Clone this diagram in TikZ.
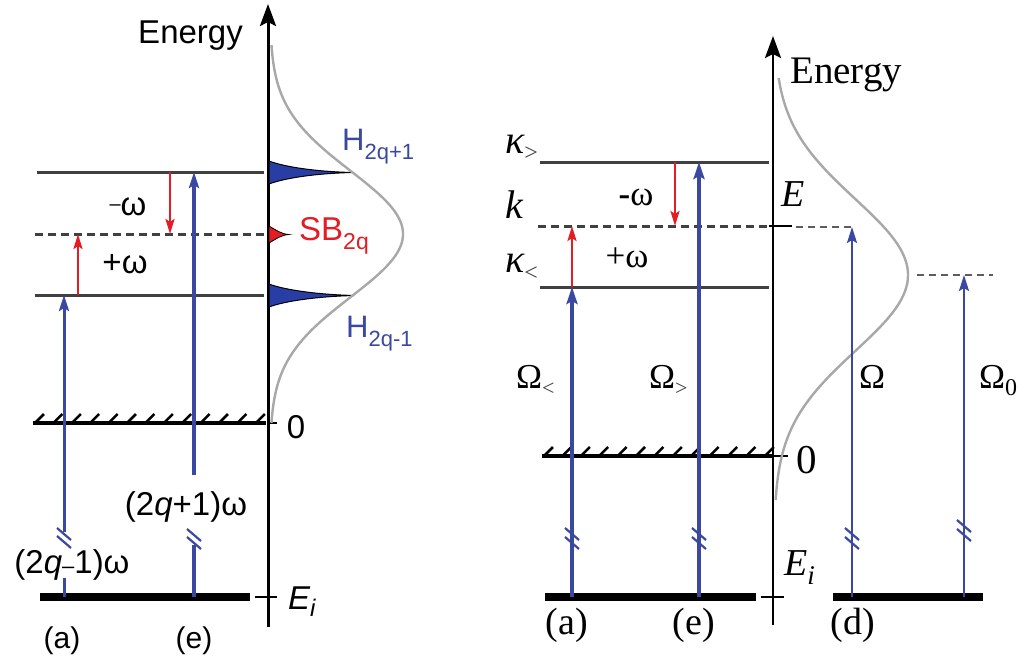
\documentclass[tikz,border=0pt]{standalone}
\usepackage{fontspec}
\setmainfont{Liberation Serif}
\newfontfamily\sanf{Liberation Sans}
\usetikzlibrary{arrows.meta}
\definecolor{lvl}{RGB}{64,64,64}
\definecolor{bl}{RGB}{58,72,162}
\definecolor{rd}{RGB}{228,28,36}
\definecolor{gs}{RGB}{168,168,168}
\definecolor{pk}{RGB}{40,62,165}
\newcommand{\fsz}[1]{\fontsize{#1}{#1}\selectfont}
\begin{document}
\begin{tikzpicture}[x=1pt,y=-1pt,
  level/.style={draw=lvl, line width=3pt},
  dlevel/.style={draw=lvl, line width=3pt, dash pattern=on 8pt off 5pt},
  thindash/.style={draw=lvl!85, line width=1.8pt, dash pattern=on 7pt off 5pt},
  ground/.style={line width=8pt},
  zero/.style={line width=4pt},
  hatch/.style={line width=2.5pt},
  axisarrow/.style={line width=3pt, -{Stealth[length=22pt,width=16pt,inset=4pt]}},
  tickmark/.style={line width=2.5pt},
  bline/.style={draw=bl, line width=3pt},
  barrow/.style={draw=bl, line width=3pt, -{Stealth[length=16pt,width=10pt,inset=3pt]}},
  bthick/.style={draw=bl, line width=4pt, -{Stealth[length=17pt,width=11pt,inset=3pt]}},
  bthin/.style={draw=bl, line width=2.5pt, -{Stealth[length=16pt,width=10pt,inset=3pt]}},
  brk/.style={draw=bl, line width=2.2pt},
  rarrow/.style={draw=rd, line width=2.5pt, -{Stealth[length=15pt,width=9pt,inset=3pt]}},
  gauss/.style={draw=gs, line width=2.4pt},
  lbl/.style={inner sep=0pt},
  sl/.style={lbl, font=\sanf\fsz{33}},
  rl/.style={lbl, font=\fsz{36}}
]
\useasboundingbox (0,0) rectangle (1025,659);

% ================= LEFT PANEL =================
\coordinate (LaxB) at (268,627);
\coordinate (LaxT) at (268,4);
\draw[axisarrow] (LaxB) -- (LaxT);
\node[lbl, font=\sanf\fsz{33}, anchor=base east] (Lenergy) at (243,43) {Energy};

% levels
\draw[level] (37,172) -- (264,172);
\draw[dlevel] (35,234) -- (264,234);
\draw[level] (35,295) -- (264,295);
% zero level with hatching
\draw[zero] (33,423) -- (266,423);
\foreach \i in {0,...,12} \draw[hatch] (36+\i*18.4,422) -- ++(8,-8);
\draw[tickmark] (268,423) -- (277,423);
\node[sl] (L0) at (296,427) {0};
% initial level
\draw[ground] (40,597) -- (250,597);
\draw[tickmark] (255,597) -- (277,597);
\node[lbl, font=\sanf\itshape\fsz{33}, anchor=base west] (LEi) at (288,609) {E\raisebox{-7pt}{\fsz{24}i}};

% spectrum peaks
\fill[pk, draw=black, line width=1pt] (269,161) .. controls (285,167) and (315,171.5) .. (352,172.5) .. controls (315,173.5) and (285,178) .. (269,184) -- cycle;
\fill[pk, draw=black, line width=1pt] (269,284) .. controls (285,290) and (317,294.5) .. (354,295.5) .. controls (317,296.5) and (285,301) .. (269,307) -- cycle;
\fill[rd, draw=black, line width=0.8pt] (269,226) .. controls (276,230) and (281,234) .. (289,234.5) .. controls (281,235) and (276,239) .. (269,243) -- cycle;
% gaussian
\draw[gauss] plot[domain=45:423, samples=90, smooth] ({270+133*exp(-0.5*((\x-234)/63)^2)}, \x);

% labels of peaks
\node[lbl, font=\sanf\fsz{31}, text=bl, anchor=base west] (H1) at (342,150) {H\raisebox{-9pt}{\fsz{22}2q+1}};
\node[lbl, font=\sanf\fsz{33}, text=rd, anchor=base west] (SB) at (299,240) {SB\raisebox{-9pt}{\fsz{23}2q}};
\node[lbl, font=\sanf\fsz{31}, text=bl, anchor=base west] (H2) at (346,337) {H\raisebox{-9pt}{\fsz{22}2q-1}};

% blue arrow (a)
\coordinate (a0) at (64,597);
\coordinate (a1) at (64,578);
\coordinate (a2) at (64,532);
\coordinate (aT) at (64,295);
\draw[bline] (a0) -- (a1);
\draw[barrow] (a2) -- (aT);
\draw[brk] (57,528) -- (71,540);
\draw[brk] (57,536) -- (71,548);
\node[sl] (La) at (72,565) {(2\textit{q}{\fsz{22}–}1)ω};

% blue arrow (e)
\coordinate (e0) at (194,597);
\coordinate (e1) at (194,545);
\coordinate (e2) at (194,475);
\coordinate (eT) at (194,172);
\draw[bline, line width=3.5pt] (e0) -- (e1);
\draw[barrow, line width=3.5pt] (e2) -- (eT);
\draw[brk] (187,529) -- (201,541);
\draw[brk] (187,537) -- (201,549);
\node[sl] (Le) at (186,507) {(2\textit{q}+1)ω};

% red arrows
\coordinate (rp0) at (78,295); \coordinate (rp1) at (78,234);
\coordinate (rm0) at (170,172); \coordinate (rm1) at (170,234);
\draw[rarrow] (rp0) -- (rp1);
\draw[rarrow] (rm0) -- (rm1);
\node[sl, anchor=center] (Lminus) at (128,207) {\raisebox{5pt}{\fsz{20}–}ω};
\node[sl, anchor=center] (Lplus) at (125,264) {+ω};

\node[lbl, font=\sanf\fsz{30}] (Lla) at (62,641) {(a)};
\node[lbl, font=\sanf\fsz{30}] (Lle) at (194,641) {(e)};

% ================= RIGHT PANEL =================
\coordinate (RaxB) at (773,625);
\coordinate (RaxT) at (773,36);
\draw[axisarrow, line width=2.6pt] (RaxB) -- (RaxT);
\node[lbl, font=\fsz{39}, anchor=base west] (Renergy) at (790,83) {Energy};

\draw[level] (540,162) -- (769,162);
\draw[dlevel] (538,226) -- (769,226);
\draw[tickmark] (769,226) -- (792,226);
\draw[thindash] (796,227) -- (855,227);
\draw[level] (540,287) -- (769,287);
\draw[thindash] (917,275) -- (993,275);

\draw[zero] (542,456) -- (773,456);
\foreach \i in {0,...,12} \draw[hatch] (545+\i*18.4,455) -- ++(8,-8);
\draw[tickmark] (773,456) -- (788,456);
\node[lbl, font=\fsz{41}] (R0) at (807,460) {0};

\draw[ground] (545,597) -- (756,597);
\draw[ground] (833,597) -- (983,597);
\draw[tickmark] (761,597) -- (784,597);

\node[lbl, font=\itshape\fsz{38}, anchor=base west] (RE) at (781,206) {E};
\node[lbl, font=\itshape\fsz{38}, anchor=base west] (REi) at (784,575) {E\raisebox{-9pt}{\fsz{27}i}};

\node[lbl, anchor=base west] (Kg) at (505,153) {{\fsz{40}\itshape κ}\raisebox{-7pt}{\fsz{24}\color{lvl}>}};
\node[lbl, font=\itshape\fsz{40}, anchor=base west] (Kk) at (505,218) {k};
\node[lbl, anchor=base west] (Kl) at (505,272) {{\fsz{40}\itshape κ}\raisebox{-8pt}{\fsz{24}\color{lvl}<}};

% gaussian
\draw[gauss] plot[domain=78:500, samples=110, smooth] ({774+134*exp(-0.5*((\x-275)/76)^2)}, \x);

% blue arrows right
\coordinate (ra0) at (572,597); \coordinate (raT) at (572,287);
\coordinate (re0) at (699,597); \coordinate (reT) at (699,162);
\coordinate (rd0) at (852,597); \coordinate (rdT) at (852,227);
\coordinate (rz0) at (964,597); \coordinate (rzT) at (964,275);
\draw[bthick] (ra0) -- (raT);
\draw[bthick] (re0) -- (reT);
\draw[bthin] (rd0) -- (rdT);
\draw[bthin] (rz0) -- (rzT);
\draw[brk] (565,528) -- (579,540);
\draw[brk] (565,537) -- (579,549);
\draw[brk] (692,528) -- (706,540);
\draw[brk] (692,537) -- (706,549);
\draw[brk] (845,528) -- (859,540);
\draw[brk] (845,537) -- (859,549);
\draw[brk] (957,520) -- (971,532);
\draw[brk] (957,529) -- (971,541);

% red arrows right
\coordinate (rrp0) at (572,287); \coordinate (rrp1) at (572,226);
\coordinate (rrm0) at (675,162); \coordinate (rrm1) at (675,226);
\draw[rarrow] (rrp0) -- (rrp1);
\draw[rarrow] (rrm0) -- (rrm1);
\node[lbl, font=\fsz{35}] (Rminus) at (636,197) {\textbf{-}ω};
\node[lbl, font=\fsz{35}] (Rplus) at (627,258) {+ω};

% Omega labels
\node[lbl, anchor=base west] (O1) at (516,388) {{\fsz{35}Ω}\raisebox{-7pt}{\fsz{22}\color{lvl}<}};
\node[lbl, anchor=base west] (O2) at (649,388) {{\fsz{35}Ω}\raisebox{-7pt}{\fsz{22}\color{lvl}>}};
\node[lbl, anchor=base west] (O3) at (859,388) {{\fsz{35}Ω}};
\node[lbl, anchor=base west] (O4) at (979,388) {{\fsz{35}Ω}\raisebox{-7pt}{\fsz{24}0}};

\node[lbl, font=\fsz{38}] (Rla) at (567,625) {(a)};
\node[lbl, font=\fsz{38}] (Rle) at (694,625) {(e)};
\node[lbl, font=\fsz{38}] (Rld) at (853,625) {(d)};
\end{tikzpicture}
\end{document}
